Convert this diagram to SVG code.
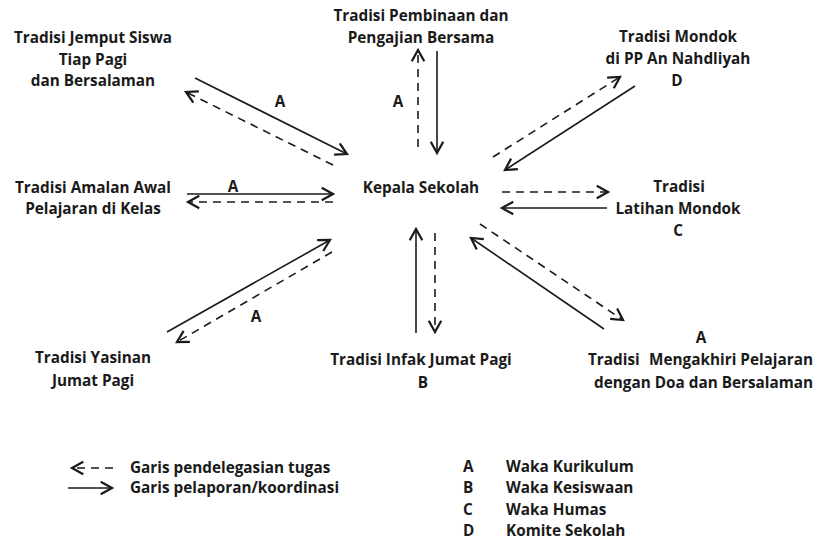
<svg xmlns="http://www.w3.org/2000/svg" width="816" height="540" viewBox="0 0 816 540">
<style>
text{font-family:"Open Sans","Liberation Sans",sans-serif;font-weight:bold;font-size:15.3px;fill:#1a1a1a}
.c{text-anchor:middle}
.s{stroke:#1a1a1a;stroke-width:1.6;fill:none}
.d{stroke:#1a1a1a;stroke-width:1.6;fill:none;stroke-dasharray:8 6}
</style>
<defs>
<marker id="ah" markerUnits="userSpaceOnUse" markerWidth="20" markerHeight="20" viewBox="-12 -8 14 16" refX="0" refY="0" orient="auto">
<path d="M-9,-5 L0,0 L-9,5" fill="none" stroke="#1a1a1a" stroke-width="1.8" stroke-dasharray="none"/>
</marker>
</defs>
<rect width="816" height="540" fill="#fff"/>
<g id="connectors">
<line class="s" x1="195" y1="78" x2="347" y2="154" marker-end="url(#ah)"/>
<line class="d" x1="333" y1="165" x2="186" y2="92" marker-end="url(#ah)"/>
<line class="s" x1="437" y1="51" x2="437" y2="153" marker-end="url(#ah)"/>
<line class="d" x1="418" y1="147" x2="418" y2="50" marker-end="url(#ah)"/>
<line class="s" x1="635" y1="86" x2="505" y2="170" marker-end="url(#ah)"/>
<line class="d" x1="493" y1="157" x2="620" y2="77" marker-end="url(#ah)"/>
<line class="s" x1="187" y1="194" x2="333" y2="194" marker-end="url(#ah)"/>
<line class="d" x1="333" y1="202" x2="188" y2="202" marker-end="url(#ah)"/>
<line class="d" x1="502" y1="192" x2="608" y2="192" marker-end="url(#ah)"/>
<line class="s" x1="607" y1="208" x2="502" y2="208" marker-end="url(#ah)"/>
<line class="s" x1="167" y1="332" x2="330" y2="240" marker-end="url(#ah)"/>
<line class="d" x1="332" y1="252" x2="177" y2="342" marker-end="url(#ah)"/>
<line class="s" x1="416" y1="333" x2="416" y2="229" marker-end="url(#ah)"/>
<line class="d" x1="435" y1="233" x2="435" y2="332" marker-end="url(#ah)"/>
<line class="s" x1="604" y1="329" x2="471" y2="238" marker-end="url(#ah)"/>
<line class="d" x1="480" y1="224" x2="623" y2="320" marker-end="url(#ah)"/>
<text class="c" x="280" y="107">A</text>
<text class="c" x="398" y="107">A</text>
<text class="c" x="233" y="192">A</text>
<text class="c" x="256" y="322">A</text>
</g>
<g id="kepala"><text class="c" x="421" y="193">Kepala Sekolah</text></g>
<g id="jemput">
<text class="c" x="93" y="43">Tradisi Jemput Siswa</text>
<text class="c" x="93" y="65">Tiap Pagi</text>
<text class="c" x="93" y="86">dan Bersalaman</text>
</g>
<g id="pembinaan">
<text class="c" x="421" y="21">Tradisi Pembinaan dan</text>
<text class="c" x="421" y="43">Pengajian Bersama</text>
</g>
<g id="mondok">
<text class="c" x="678" y="42">Tradisi Mondok</text>
<text class="c" x="678" y="64">di PP An Nahdliyah</text>
<text class="c" x="677" y="86">D</text>
</g>
<g id="amalan">
<text class="c" x="93" y="193">Tradisi Amalan Awal</text>
<text class="c" x="93" y="214">Pelajaran di Kelas</text>
</g>
<g id="latihan">
<text class="c" x="679" y="192">Tradisi</text>
<text class="c" x="678" y="214">Latihan Mondok</text>
<text class="c" x="678" y="236">C</text>
</g>
<g id="yasinan">
<text class="c" x="93" y="363">Tradisi Yasinan</text>
<text class="c" x="93" y="386">Jumat Pagi</text>
</g>
<g id="infak">
<text class="c" x="421" y="365">Tradisi Infak Jumat Pagi</text>
<text class="c" x="423" y="388">B</text>
</g>
<g id="mengakhiri">
<text class="c" x="701" y="343">A</text>
<text y="365"><tspan x="588">Tradisi</tspan><tspan x="813" text-anchor="end">Mengakhiri Pelajaran</tspan></text>
<text x="813" y="388" text-anchor="end">dengan Doa dan Bersalaman</text>
</g>
<g id="legend">
<line class="d" x1="113" y1="468" x2="72" y2="468" marker-end="url(#ah)"/>
<line class="s" x1="68" y1="488" x2="112" y2="488" marker-end="url(#ah)"/>
<text x="130" y="473">Garis pendelegasian tugas</text>
<text x="130" y="493">Garis pelaporan/koordinasi</text>
<text x="463" y="472">A</text><text x="506" y="472">Waka Kurikulum</text>
<text x="463" y="493">B</text><text x="506" y="493">Waka Kesiswaan</text>
<text x="463" y="515">C</text><text x="506" y="515">Waka Humas</text>
<text x="463" y="536">D</text><text x="506" y="536">Komite Sekolah</text>
</g>
</svg>
